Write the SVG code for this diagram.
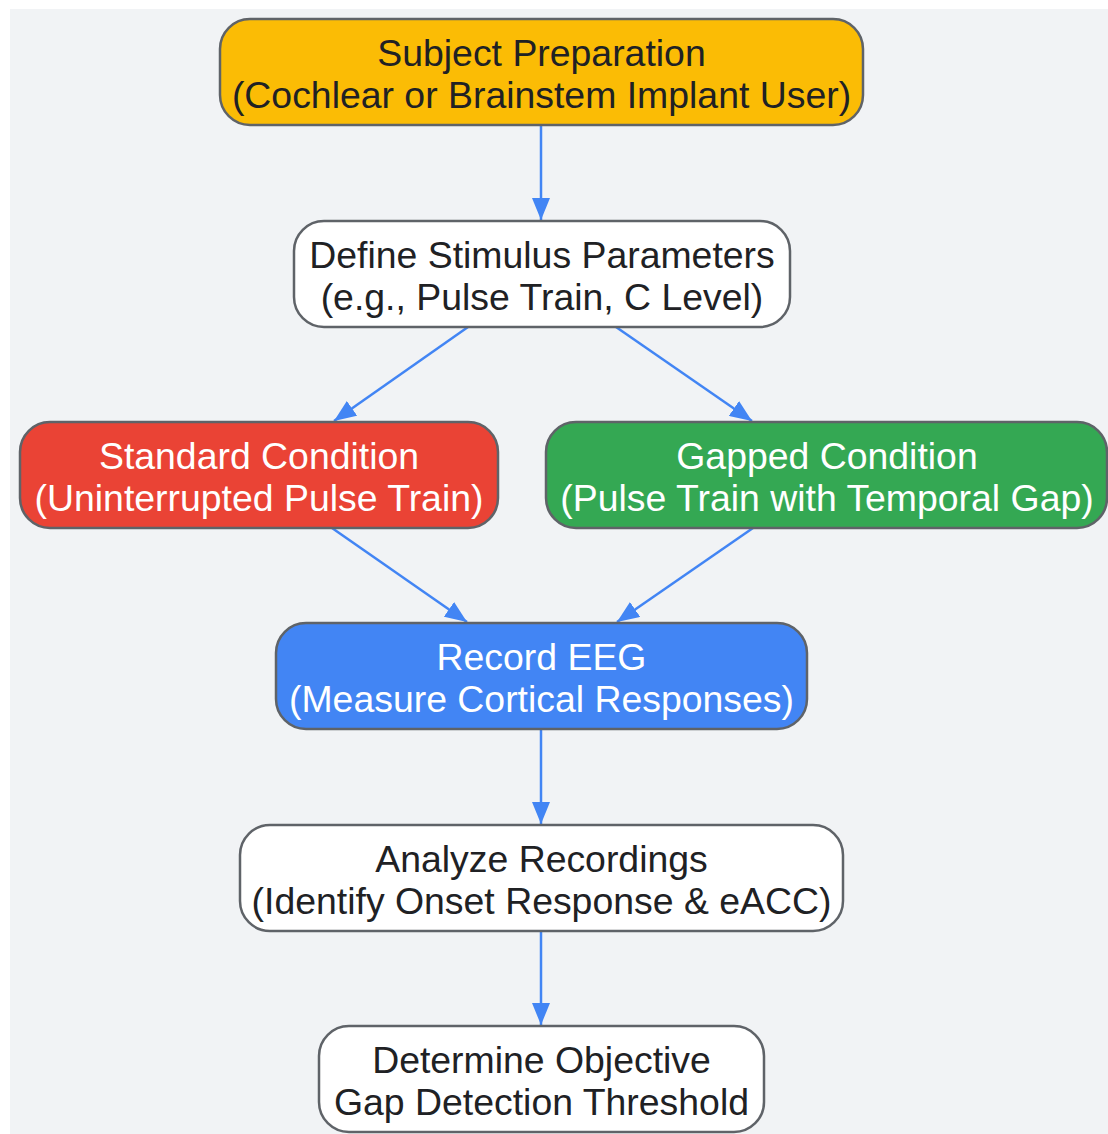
<svg xmlns="http://www.w3.org/2000/svg" width="1108" height="1134" viewBox="0 0 1108 1134">
<defs>
<style>
.bg{fill:#f1f3f5}
.node{stroke:#5f6368;stroke-width:2.5}
.t{font-family:"Liberation Sans",Arial,sans-serif;font-size:37.4px;text-anchor:middle;fill:#202124}
.w{fill:#ffffff}
.edge{stroke:#4285f4;stroke-width:2.5;fill:none}
</style>
<marker id="ah" viewBox="0 0 22 18" refX="22" refY="9" markerWidth="22" markerHeight="18" markerUnits="userSpaceOnUse" orient="auto">
<path d="M0,0 L22,9 L0,18 Z" fill="#4285f4"/>
</marker>
</defs>
<rect class="bg" x="10" y="9" width="1098" height="1125"/>
<g id="connectors">
<line class="edge" x1="541" y1="126" x2="541" y2="220" marker-end="url(#ah)"/>
<line class="edge" x1="468" y1="327" x2="334" y2="421" marker-end="url(#ah)"/>
<line class="edge" x1="616" y1="327" x2="752" y2="421" marker-end="url(#ah)"/>
<line class="edge" x1="332" y1="528" x2="467" y2="622" marker-end="url(#ah)"/>
<line class="edge" x1="753" y1="528" x2="617" y2="622" marker-end="url(#ah)"/>
<line class="edge" x1="541" y1="730" x2="541" y2="824" marker-end="url(#ah)"/>
<line class="edge" x1="541" y1="931" x2="541" y2="1025" marker-end="url(#ah)"/>
</g>
<g id="n1">
<rect class="node" x="220" y="19" width="643" height="106" rx="30" fill="#fbbc05"/>
<text class="t" x="541.5" y="66">Subject Preparation</text>
<text class="t" x="541.5" y="108">(Cochlear or Brainstem Implant User)</text>
</g>
<g id="n2">
<rect class="node" x="294" y="221" width="496" height="106" rx="30" fill="#ffffff"/>
<text class="t" x="542" y="268">Define Stimulus Parameters</text>
<text class="t" x="542" y="310">(e.g., Pulse Train, C Level)</text>
</g>
<g id="n3">
<rect class="node" x="20" y="422" width="478" height="106" rx="30" fill="#ea4335"/>
<text class="t w" x="259" y="469">Standard Condition</text>
<text class="t w" x="259" y="511">(Uninterrupted Pulse Train)</text>
</g>
<g id="n4">
<rect class="node" x="546" y="422" width="561" height="106" rx="30" fill="#34a853"/>
<text class="t w" x="827" y="469">Gapped Condition</text>
<text class="t w" x="827" y="511">(Pulse Train with Temporal Gap)</text>
</g>
<g id="n5">
<rect class="node" x="276" y="623" width="531" height="106" rx="30" fill="#4285f4"/>
<text class="t w" x="541.5" y="670">Record EEG</text>
<text class="t w" x="541.5" y="712">(Measure Cortical Responses)</text>
</g>
<g id="n6">
<rect class="node" x="240" y="825" width="603" height="106" rx="30" fill="#ffffff"/>
<text class="t" x="541.5" y="872">Analyze Recordings</text>
<text class="t" x="541.5" y="914">(Identify Onset Response &amp; eACC)</text>
</g>
<g id="n7">
<rect class="node" x="319" y="1026" width="445" height="106" rx="30" fill="#ffffff"/>
<text class="t" x="541.5" y="1073">Determine Objective</text>
<text class="t" x="541.5" y="1115">Gap Detection Threshold</text>
</g>
</svg>
